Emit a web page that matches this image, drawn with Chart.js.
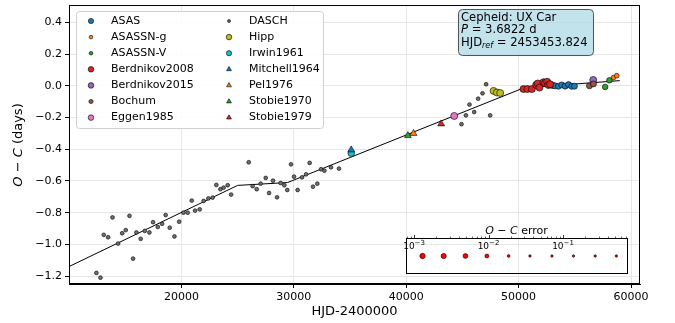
<!DOCTYPE html>
<html>
<head>
<meta charset="UTF-8">
<title>O-C diagram: UX Car</title>
<style>
    body { margin: 0; background: #fff; }
    #wrap { position: relative; width: 675px; height: 323px; }
    #ocChart { position: absolute; left: 0; top: 0; }
    #errChart { position: absolute; left: 398px; top: 222px; }
</style>
</head>
<body>
<div id="wrap">
    <canvas id="ocChart" width="675" height="323"></canvas>
    <canvas id="errChart" width="238" height="58"></canvas>
</div>

<script src="https://cdn.jsdelivr.net/npm/chart.js"></script>
<script>
// ---- values: HJD-2400000 and O-C (days) ----
const daschHjd = [12440, 12800, 13090, 13480, 13870, 14370, 14730, 15050, 15380, 15700,
    16000, 16380, 16740, 17150, 17480, 17900, 18280, 18600, 18960, 19380,
    19800, 20180, 20560, 20920, 21220, 21630, 21980, 22400, 22780, 23110,
    23470, 23760, 24120, 24420, 25990, 26340, 26700, 27050, 27500, 27800,
    28150, 28510, 28830, 29160, 29420, 29750, 30020, 30340, 30730, 31090,
    31410, 31710, 32090, 32420, 32720, 33310, 34020, 44920, 45310, 45630,
    46050, 46400, 46790, 47110, 47470];
const daschOc = [-1.18, -1.21, -0.94, -0.955, -0.83, -0.995, -0.93, -0.91, -0.82, -1.09,
    -0.925, -0.965, -0.915, -0.925, -0.86, -0.89, -0.87, -0.815, -0.895, -0.95,
    -0.857, -0.80, -0.80, -0.724, -0.787, -0.779, -0.726, -0.71, -0.705, -0.625,
    -0.652, -0.642, -0.627, -0.686, -0.482, -0.633, -0.652, -0.617, -0.581, -0.676,
    -0.598, -0.703, -0.613, -0.627, -0.657, -0.495, -0.573, -0.657, -0.577, -0.558,
    -0.486, -0.636, -0.617, -0.526, -0.535, -0.514, -0.522, -0.242, -0.186, -0.118,
    -0.165, -0.081, -0.047, 0.01, -0.186];

const asasHjd = [52950, 53050, 53250, 53540, 53840, 54140, 54440, 54730, 54970];
const asasOc = [0.005, 0.002, 0.0, -0.003, 0.006, -0.002, 0.008, -0.003, -0.002];

const berd2008Hjd = [50430, 50780, 51180, 51560, 51700, 51860, 52210, 52350, 52540, 52650, 52800];
const berd2008Oc = [-0.02, -0.02, -0.02, 0.006, 0.015, -0.011, 0.023, 0.018, 0.026, 0.005, 0.01];

const hippHjd = [47770, 48070, 48360];
const hippOc = [-0.032, -0.042, -0.045];

const berd2015Hjd = [56640];
const berd2015Oc = [0.037];
const bochumHjd = [56300, 56660];
const bochumOc = [0.0, 0.012];
const asassnVHjd = [57700, 58080];
const asassnVOc = [-0.007, 0.035];
const asassnGHjd = [58440, 58730];
const asassnGOc = [0.052, 0.064];
const eggenHjd = [44270];
const eggenOc = [-0.19];
const irwinHjd = [35110];
const irwinOc = [-0.425];
const mitchellHjd = [35110];
const mitchellOc = [-0.404];
const pelHjd = [40650];
const pelOc = [-0.30];
const stobie70Hjd = [40150];
const stobie70Oc = [-0.314];
const stobie79Hjd = [43110];
const stobie79Oc = [-0.24];

// piecewise fit (break points)
const fitHjd = [10000, 25000, 29450, 50450, 59000];
const fitOc = [-1.14, -0.628, -0.61, -0.013, 0.033];

const xTicks = [20000, 30000, 40000, 50000, 60000];
const yTicks = [-1.2, -1.0, -0.8, -0.6, -0.4, -0.2, 0.0, 0.2, 0.4];

// O-C error scale of the inset
const errValues = [0.0013, 0.0025, 0.0049, 0.0095, 0.0186, 0.036, 0.071, 0.138, 0.27, 0.52];
const errTicks = [0.001, 0.01, 0.1];

// ---- styles ----
const FONT = '"DejaVu Sans", sans-serif';
Chart.defaults.font.family = FONT;
Chart.defaults.color = '#000';

const sources = [
    {label: 'ASAS', hjd: asasHjd, oc: asasOc, color: '#1f77b4', shape: 'circle', r: 3, lr: 2.6},
    {label: 'ASASSN-g', hjd: asassnGHjd, oc: asassnGOc, color: '#ff7f0e', shape: 'circle', r: 2.4, lr: 1.8},
    {label: 'ASASSN-V', hjd: asassnVHjd, oc: asassnVOc, color: '#2ca02c', shape: 'circle', r: 2.8, lr: 1.8},
    {label: 'Berdnikov2008', hjd: berd2008Hjd, oc: berd2008Oc, color: '#d62728', shape: 'circle', r: 3.5, lr: 2.8},
    {label: 'Berdnikov2015', hjd: berd2015Hjd, oc: berd2015Oc, color: '#9467bd', shape: 'circle', r: 3.5, lr: 2.8},
    {label: 'Bochum', hjd: bochumHjd, oc: bochumOc, color: '#8c564b', shape: 'circle', r: 3, lr: 2.1},
    {label: 'Eggen1985', hjd: eggenHjd, oc: eggenOc, color: '#e377c2', shape: 'circle', r: 3.5, lr: 2.8},
    {label: 'DASCH', hjd: daschHjd, oc: daschOc, color: '#6f6f6f', shape: 'circle', r: 1.9, lr: 1.5},
    {label: 'Hipp', hjd: hippHjd, oc: hippOc, color: '#bcbd22', shape: 'circle', r: 3.5, lr: 2.8},
    {label: 'Irwin1961', hjd: irwinHjd, oc: irwinOc, color: '#17becf', shape: 'circle', r: 3.3, lr: 2.6},
    {label: 'Mitchell1964', hjd: mitchellHjd, oc: mitchellOc, color: '#1f77b4', shape: 'triangle', r: 4, lr: 2.8},
    {label: 'Pel1976', hjd: pelHjd, oc: pelOc, color: '#ff7f0e', shape: 'triangle', r: 4, lr: 2.8},
    {label: 'Stobie1970', hjd: stobie70Hjd, oc: stobie70Oc, color: '#2ca02c', shape: 'triangle', r: 4, lr: 2.8},
    {label: 'Stobie1979', hjd: stobie79Hjd, oc: stobie79Oc, color: '#d62728', shape: 'triangle', r: 4, lr: 2.8}
];
const errDotRadius = [2.7, 2.6, 2.4, 2.0, 1.4, 1.2, 1.2, 1.2, 1.2, 1.2];

function roundRect(ctx, x, y, w, h, r) {
    ctx.beginPath();
    ctx.moveTo(x + r, y);
    ctx.arcTo(x + w, y, x + w, y + h, r);
    ctx.arcTo(x + w, y + h, x, y + h, r);
    ctx.arcTo(x, y + h, x, y, r);
    ctx.arcTo(x, y, x + w, y, r);
    ctx.closePath();
}

// draw a sequence of text pieces left to right
function drawPieces(ctx, pieces, x, y) {
    pieces.forEach(p => {
        ctx.font = p.font;
        ctx.fillText(p.text, x, y + (p.dy || 0));
        x += ctx.measureText(p.text).width;
    });
}
function piecesWidth(ctx, pieces) {
    let w = 0;
    pieces.forEach(p => { ctx.font = p.font; w += ctx.measureText(p.text).width; });
    return w;
}

const frame = {
    id: 'frame',
    afterDraw(chart) {
        const {ctx, chartArea: a} = chart;
        ctx.save();
        ctx.strokeStyle = '#000';
        ctx.lineWidth = 1;
        ctx.strokeRect(Math.round(a.left) + 0.5, Math.round(a.top) + 0.5,
            Math.round(a.right - a.left) - 1, Math.round(a.bottom - a.top) - 1);

        // y axis title with italic O and C
        const yt = [
            {text: 'O', font: 'italic 13px ' + FONT},
            {text: ' \u2212 ', font: '13px ' + FONT},
            {text: 'C', font: 'italic 13px ' + FONT},
            {text: ' (days)', font: '13px ' + FONT}
        ];
        ctx.translate(19, 145);
        ctx.rotate(-Math.PI / 2);
        ctx.fillStyle = '#000';
        ctx.textBaseline = 'middle';
        drawPieces(ctx, yt, -piecesWidth(ctx, yt) / 2, 0);
        ctx.restore();
    }
};

const legendBox = {
    id: 'legendBox',
    afterDatasetsDraw(chart) {
        const ctx = chart.ctx;
        ctx.save();
        roundRect(ctx, 76.5, 11.5, 247, 117, 3);
        ctx.fillStyle = 'rgba(255,255,255,0.85)';
        ctx.fill();
        ctx.strokeStyle = '#d0d0d0';
        ctx.lineWidth = 1;
        ctx.stroke();
        ctx.textBaseline = 'middle';
        sources.forEach((s, i) => {
            const col = Math.floor(i / 7), row = i % 7;
            const mx = col ? 229 : 91, tx = col ? 249 : 111;
            const y = 21 + row * 16.1;
            ctx.fillStyle = s.color;
            ctx.strokeStyle = '#000';
            ctx.lineWidth = 0.6;
            Chart.helpers.drawPoint(ctx, {pointStyle: s.shape, radius: s.lr, rotation: 0, borderWidth: 0.6}, mx, y);
            ctx.fillStyle = '#000';
            ctx.font = '11px ' + FONT;
            ctx.fillText(s.label, tx, y);
        });
        ctx.restore();
    }
};

const infoBox = {
    id: 'infoBox',
    afterDatasetsDraw(chart) {
        const ctx = chart.ctx;
        ctx.save();
        roundRect(ctx, 458.5, 9.5, 135, 46, 4);
        ctx.fillStyle = 'rgba(173,216,230,0.75)';
        ctx.fill();
        ctx.strokeStyle = '#555';
        ctx.lineWidth = 1;
        ctx.stroke();
        ctx.fillStyle = '#000';
        ctx.textBaseline = 'alphabetic';
        const f = '11.6px ' + FONT;
        drawPieces(ctx, [{text: 'Cepheid: UX Car', font: f}], 461, 21);
        drawPieces(ctx, [{text: 'P', font: 'italic 11.6px ' + FONT}, {text: ' = 3.6822 d', font: f}], 461, 33);
        drawPieces(ctx, [
            {text: 'HJD', font: f},
            {text: 'ref', font: 'italic 8px ' + FONT, dy: 2},
            {text: ' = 2453453.824', font: f}
        ], 461, 45.5);
        ctx.restore();
    }
};

const datasets = sources.map((s, i) => ({
    label: s.label,
    data: s.hjd.map((x, k) => ({x: x, y: s.oc[k]})),
    backgroundColor: s.color,
    borderColor: '#000',
    borderWidth: 0.6,
    pointStyle: s.shape,
    pointRadius: s.r,
    pointHoverRadius: s.r,
    order: sources.length - i
}));
datasets.push({
    type: 'line',
    label: 'fit',
    data: fitHjd.map((x, k) => ({x: x, y: fitOc[k]})),
    borderColor: '#000',
    borderWidth: 1,
    pointRadius: 0,
    fill: false,
    order: 100
});

new Chart(document.getElementById('ocChart'), {
    type: 'scatter',
    data: {datasets: datasets},
    options: {
        responsive: false,
        animation: false,
        layout: {padding: {left: 0, right: 35, top: 0, bottom: 0}},
        plugins: {legend: {display: false}, tooltip: {enabled: false}},
        scales: {
            x: {
                type: 'linear',
                min: 10000,
                max: 60800,
                afterBuildTicks: s => { s.ticks = xTicks.map(v => ({value: v})); },
                afterFit: s => { s.height = 39; },
                ticks: {font: {size: 11}, color: '#000', padding: 3, maxRotation: 0,
                    callback: v => String(v)},
                grid: {color: '#e6e6e6', tickColor: '#000', tickLength: 4},
                border: {color: '#000'},
                title: {display: true, text: 'HJD-2400000', font: {size: 13}, padding: {top: 0, bottom: 4}}
            },
            y: {
                min: -1.25,
                max: 0.51,
                afterBuildTicks: s => { s.ticks = yTicks.map(v => ({value: v})); },
                afterFit: s => { s.width = 69; s.paddingTop = 5; s.paddingBottom = 0; },
                ticks: {font: {size: 11, lineHeight: 0.9}, color: '#000', padding: 3,
                    callback: v => v.toFixed(1).replace('-', '\u2212')},
                grid: {color: '#e6e6e6', tickColor: '#000', tickLength: 4},
                border: {color: '#000'}
            }
        }
    },
    plugins: [frame, legendBox, infoBox]
});

// ---- inset: O-C error scale ----
const errAxis = {
    id: 'errAxis',
    afterDraw(chart) {
        const {ctx, chartArea: a, scales: {x}} = chart;
        ctx.save();
        ctx.strokeStyle = '#000';
        ctx.lineWidth = 1;
        ctx.strokeRect(Math.round(a.left) + 0.5, Math.round(a.top) + 0.5,
            Math.round(a.right - a.left) - 1, Math.round(a.bottom - a.top) - 1);
        const top = Math.round(a.top) + 0.5;
        for (let d = -4; d <= 0; d++) {
            for (let m = 1; m <= 9; m++) {
                const v = m * Math.pow(10, d);
                if (v < x.min || v > x.max) continue;
                const px = Math.round(x.getPixelForValue(v)) + 0.5;
                const len = m === 1 ? 3.5 : 2;
                ctx.lineWidth = m === 1 ? 0.8 : 0.6;
                ctx.beginPath();
                ctx.moveTo(px, top);
                ctx.lineTo(px, top - len);
                ctx.stroke();
            }
        }
        ctx.fillStyle = '#000';
        ctx.textBaseline = 'alphabetic';
        errTicks.forEach(v => {
            const px = x.getPixelForValue(v);
            const pieces = [
                {text: '10', font: '9px ' + FONT},
                {text: '\u2212' + Math.round(-Math.log10(v)), font: '7px ' + FONT, dy: -4}
            ];
            drawPieces(ctx, pieces, px - piecesWidth(ctx, pieces) / 2, a.top + 11);
        });
        // title
        const tp = [
            {text: 'O', font: 'italic 11px ' + FONT},
            {text: ' \u2212 ', font: '11px ' + FONT},
            {text: 'C', font: 'italic 11px ' + FONT},
            {text: ' error', font: '11px ' + FONT}
        ];
        ctx.textBaseline = 'middle';
        drawPieces(ctx, tp, 118.5 - piecesWidth(ctx, tp) / 2, 9.5);
        ctx.restore();
    }
};

new Chart(document.getElementById('errChart'), {
    type: 'scatter',
    data: {
        datasets: [{
            data: errValues.map(v => ({x: v, y: 0})),
            backgroundColor: '#ff0000',
            borderColor: '#000',
            borderWidth: 0.6,
            pointRadius: errDotRadius,
            pointHoverRadius: errDotRadius
        }]
    },
    options: {
        responsive: false,
        animation: false,
        layout: {padding: {left: 8, right: 8, top: 16, bottom: 6}},
        plugins: {legend: {display: false}, tooltip: {enabled: false}},
        scales: {
            x: {type: 'logarithmic', min: 0.00078, max: 0.745, display: false},
            y: {min: -1, max: 1, display: false}
        }
    },
    plugins: [errAxis]
});
</script>
</body>
</html>
